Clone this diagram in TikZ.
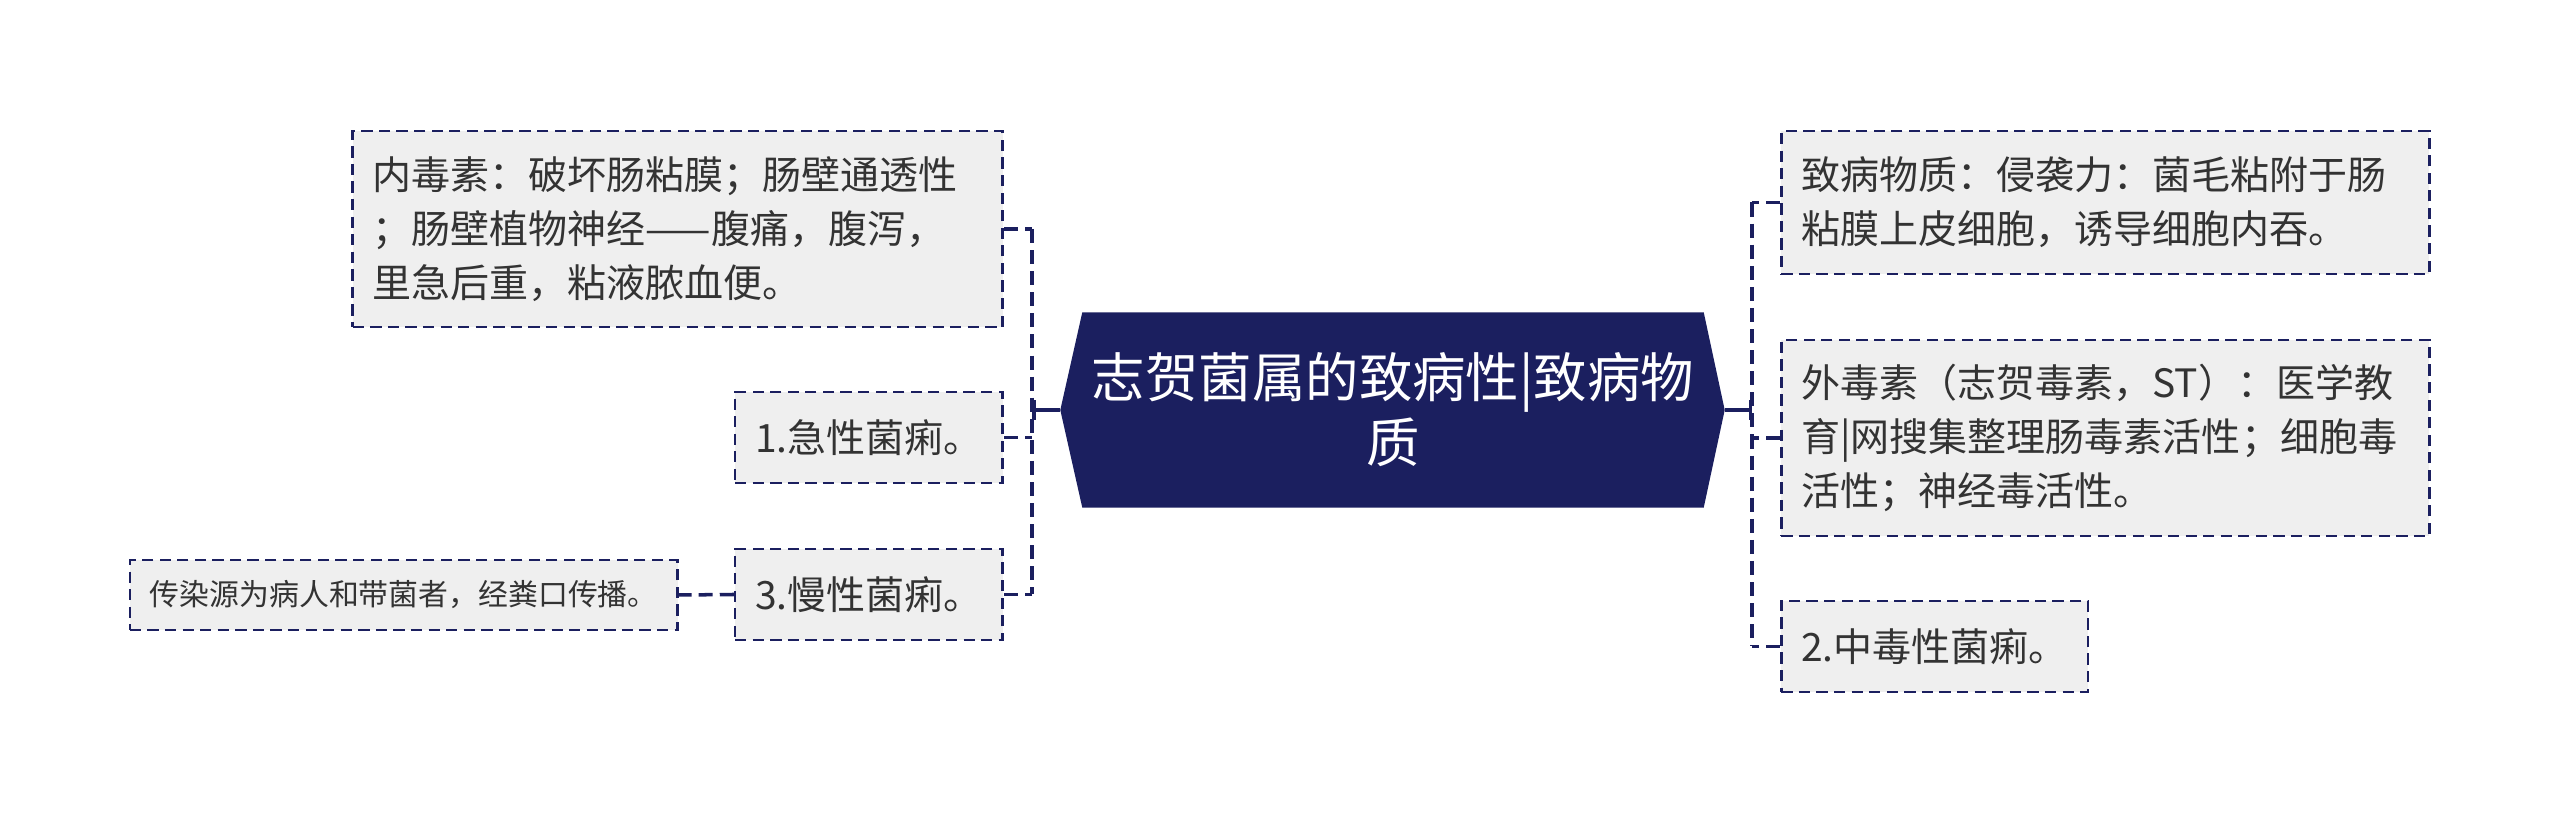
\documentclass[tikz,border=0pt]{standalone}
\usepackage{fontspec}
\setmainfont{Noto Sans CJK SC}
\usetikzlibrary{calc,arrows.meta}
\pgfdeclarelayer{bg}
\pgfsetlayers{bg,main}
\definecolor{mapnavy}{HTML}{1B1F5F}
\definecolor{leafgray}{HTML}{EFEFEF}
\definecolor{inkgray}{HTML}{333333}
\tikzset{
  rootbox/.style={text=white, font=\fontsize{15.2}{18.5}\selectfont, align=center,
    minimum width=6.2cm, minimum height=1.94cm, inner sep=0pt},
  leafbox/.style={draw=mapnavy, fill=leafgray, text=inkgray, line width=0.75pt,
    dash pattern=on 3.2pt off 1.8pt, font=\fontsize{11.1}{15.4}\selectfont,
    align=left, inner xsep=0.2cm, inner ysep=0.12cm, minimum height=0.91cm},
  smallbox/.style={leafbox, font=\fontsize{8.5}{11}\selectfont, minimum height=0.7cm},
  link/.style={draw=mapnavy, line width=1pt, dash pattern=on 4pt off 2pt},
  trunk/.style={draw=mapnavy, line width=0.9pt, -{Bar[width=5.5pt,line width=1pt]}}
}
\begin{document}
\begin{tikzpicture}
\useasboundingbox (0,0) rectangle (25.6,8.23);
%\draw[step=1cm,black,very thin] (0,0) grid (25.6,8.23);
\node[rootbox] (root) at (13.93,4.13) {志贺菌属的致病性|致病物\\质};
\coordinate (rootL) at ($(root.west)+(-0.22,0)$);
\coordinate (rootR) at ($(root.east)+(0.21,0)$);
\begin{pgfonlayer}{bg}
\fill[mapnavy] (root.north west) -- (root.north east) -- (rootR) -- (root.south east)
  -- (root.south west) -- (rootL) -- cycle;
\end{pgfonlayer}
% left side
\node[leafbox, anchor=east, text width=6.1cm, minimum height=1.96cm] (endo) at (10.04,5.94)
  {内毒素：破坏肠粘膜；肠壁通透性\\；肠壁植物神经——腹痛，腹泻，\\里急后重，粘液脓血便。};
\node[leafbox, anchor=east] (acute) at (10.04,3.855) {1.急性菌痢。};
\node[leafbox, anchor=east] (chronic) at (10.04,2.285) {3.慢性菌痢。};
\node[smallbox, anchor=east] (route) at (6.79,2.28) {传染源为病人和带菌者，经粪口传播。};
% right side
\node[leafbox, anchor=west, text width=6.08cm, minimum height=1.43cm] (invasive) at (17.80,6.205)
  {致病物质：侵袭力：菌毛粘附于肠\\粘膜上皮细胞，诱导细胞内吞。};
\node[leafbox, anchor=west, text width=6.08cm, minimum height=1.96cm] (exotox) at (17.80,3.85)
  {外毒素（志贺毒素，ST）：医学教\\育|网搜集整理肠毒素活性；细胞毒\\活性；神经毒活性。};
\node[leafbox, anchor=west] (toxic) at (17.80,1.765) {2.中毒性菌痢。};
% connectors
\coordinate (lj) at (10.32,4.13);
\coordinate (rj) at (17.52,4.13);
\draw[trunk] (rootL) -- (lj);
\draw[trunk] (rootR) -- (rj);
\draw[link] (endo.east -| lj) -- (chronic.east -| lj);
\draw[link] (invasive.west -| rj) -- (toxic.west -| rj);
\foreach \leaf in {endo,acute,chronic}
  \draw[link] (\leaf.east) -- (\leaf.east -| lj);
\foreach \leaf in {invasive,exotox,toxic}
  \draw[link] (\leaf.west) -- (\leaf.west -| rj);
\draw[link] (chronic.west) -- (route.east);
\end{tikzpicture}
\end{document}
